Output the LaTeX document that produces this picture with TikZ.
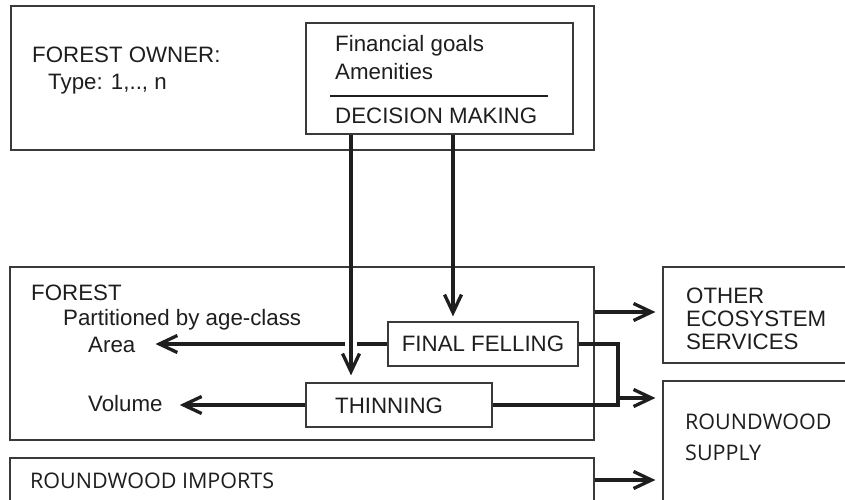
\documentclass[tikz,border=0pt]{standalone}
\usepackage{fontspec}
\setmainfont{Liberation Sans}
\newfontfamily\segoe{Open Sans}
\usetikzlibrary{arrows.meta}
\definecolor{ink}{HTML}{1E1E1E}
\definecolor{frame}{HTML}{3A3A3A}
\tikzset{
  boxnode/.style={draw=frame, line width=1.2pt, rectangle, inner sep=0pt, fill=none},
  txt/.style={inner sep=0pt, anchor=base west, text=ink, font=\fontsize{22.3}{26}\selectfont},
  stxt/.style={inner sep=0pt, anchor=base west, text=ink, font=\segoe\fontsize{21.5}{26}\selectfont},
  arr/.style={draw=ink, line width=3.3pt, -{Straight Barb[length=18pt,width=17pt]}},
  conn/.style={draw=ink, line width=3.3pt},
}
\begin{document}
\begin{tikzpicture}[x=1pt,y=-1pt]
\useasboundingbox (0,0) rectangle (845,500);
\fill[white] (0,0) rectangle (845,500);
% boxes
\node[boxnode, minimum width=583pt, minimum height=144pt] (owner) at (302.5,78) {};
\node[boxnode, minimum width=267pt, minimum height=111pt] (dec) at (439.5,78.5) {};
\node[boxnode, minimum width=584pt, minimum height=173pt] (forest) at (302,353.5) {};
\node[boxnode, minimum width=584pt, minimum height=72pt] (imports) at (302,494) {};
\node[boxnode, minimum width=237pt, minimum height=96pt] (other) at (781.5,315) {};
\node[boxnode, minimum width=237pt, minimum height=159pt] (supply) at (781.5,460.5) {};
\node[boxnode, minimum width=190pt, minimum height=44pt, text=ink, font=\fontsize{22.3}{26}\selectfont] (ff) at (483,344) {FINAL FELLING};
\node[boxnode, minimum width=186pt, minimum height=44pt] (thin) at (399,405) {};
% texts
\node[txt] (ownert) at (32,63) {FOREST OWNER:};
\node[txt] (typet) at (48,90) {Type: 1,.., n};
\node[txt] (fin) at (335,52) {Financial goals};
\node[txt] (amen) at (335,80) {Amenities};
\node[txt] (dm) at (335,124) {DECISION MAKING};
\draw[draw=ink, line width=1.2pt] (330,96) -- (548,96);
\node[txt] (forestt) at (31,300) {FOREST};
\node[txt] (part) at (63,325) {Partitioned by age-class};
\node[txt] (area) at (88,352) {Area};
\node[txt] (vol) at (88,411) {Volume};
\node[txt] (thint) at (335,413) {THINNING};
\node[txt] (oth1) at (686,303) {OTHER};
\node[txt] (oth2) at (686,326) {ECOSYSTEM};
\node[txt] (oth3) at (686,349) {SERVICES};
\node[stxt] (sup1) at (685,429) {ROUNDWOOD};
\node[stxt] (sup2) at (685,460) {SUPPLY};
\node[stxt] (impt) at (30,488) {ROUNDWOOD IMPORTS};
% helper coordinates
\coordinate (cx1) at (351,0);
\coordinate (cx2) at (453,0);
\coordinate (jx) at (618,0);
\coordinate (ya) at (0,312);
\coordinate (yb) at (0,398);
\coordinate (yc) at (0,480);
% horizontal arrows
\draw[arr, shorten >=20pt] (ff.west) -- (area.east |- ff.west);
\fill[white] (345,339) rectangle (357,349);
\draw[arr, shorten >=17pt] (thin.west) -- (vol.east |- thin.west);
% vertical arrows
\draw[arr, shorten >=7pt] (cx1 |- dec.south) -- (cx1 |- thin.north);
\draw[arr, shorten >=5pt] (cx2 |- dec.south) -- (cx2 |- ff.north);
% joining connector
\draw[conn] (ff.east) -| (jx |- thin.east) -- (thin.east);
\draw[arr, shorten >=7pt] (jx |- yb) -- (supply.west |- yb);
\draw[arr, shorten >=7pt] (forest.east |- ya) -- (other.west |- ya);
\draw[arr, shorten >=7pt] (imports.east |- yc) -- (supply.west |- yc);
\end{tikzpicture}
\end{document}
